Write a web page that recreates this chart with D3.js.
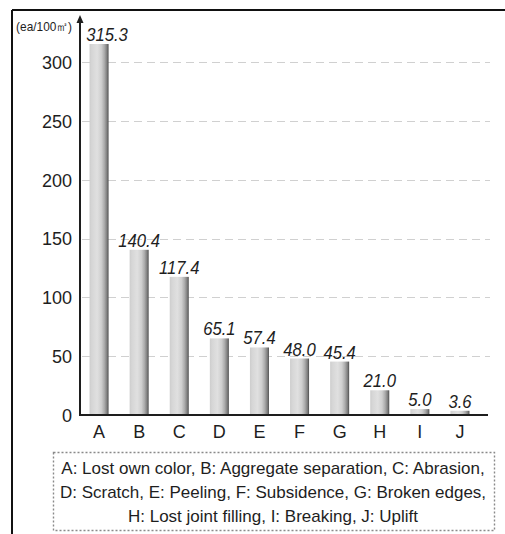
<!DOCTYPE html>
<html>
<head>
<meta charset="utf-8">
<script src="https://cdn.jsdelivr.net/npm/d3@7"></script>
<style>
  html, body { margin: 0; padding: 0; background: #fff; }
  svg { display: block; }
  text { font-family: "Liberation Sans", Arial, "Noto Sans", sans-serif; fill: #1e1e1e; }
</style>
</head>
<body>
<svg id="chart" width="505" height="534"></svg>
<script>
// Damage types (category codes) and their counts per 100 m²
const categories = ["A", "B", "C", "D", "E", "F", "G", "H", "I", "J"];
const values = [315.3, 140.4, 117.4, 65.1, 57.4, 48.0, 45.4, 21.0, 5.0, 3.6];
const valueLabels = ["315.3", "140.4", "117.4", "65.1", "57.4", "48.0", "45.4", "21.0", "5.0", "3.6"];
const yTicks = [0, 50, 100, 150, 200, 250, 300];
const unitLabel = "(ea/100㎡)";
const legendLines = [
  "A: Lost own color, B: Aggregate separation, C: Abrasion,",
  "D: Scratch, E: Peeling, F: Subsidence, G: Broken edges,",
  "H: Lost joint filling, I: Breaking, J: Uplift"
];

const svg = d3.select("#chart");

const plot = { left: 80, right: 490, top: 17, bottom: 415 };

const x = d3.scaleBand()
  .domain(categories)
  .range([79, 480])
  .paddingInner(0.526)
  .paddingOuter(0.263);

const y = d3.scaleLinear()
  .domain([0, 300])
  .range([plot.bottom, 62]);

// Bar shading: light face with a darker rounded right side
const defs = svg.append("defs");
const grad = defs.append("linearGradient").attr("id", "barShade")
  .attr("x1", "0%").attr("x2", "100%").attr("y1", "0%").attr("y2", "0%");
[["0%", "#cdcdcd"], ["12%", "#d6d6d6"], ["40%", "#e0e0e0"], ["62%", "#cfcfcf"],
 ["78%", "#acacac"], ["92%", "#7c7c7c"], ["100%", "#4c4c4c"]]
  .forEach(([o, c]) => grad.append("stop").attr("offset", o).attr("stop-color", c));

// Outer frame (top and left edges)
svg.append("line").attr("x1", 12).attr("x2", 505).attr("y1", 10).attr("y2", 10)
  .attr("stroke", "#111").attr("stroke-width", 2);
svg.append("line").attr("x1", 12).attr("x2", 12).attr("y1", 10).attr("y2", 534)
  .attr("stroke", "#111").attr("stroke-width", 2);

// Dashed gridlines
svg.append("g").selectAll("line")
  .data(yTicks.filter(d => d > 0))
  .join("line")
  .attr("x1", plot.left + 2).attr("x2", plot.right)
  .attr("y1", d => Math.round(y(d)) + 0.5).attr("y2", d => Math.round(y(d)) + 0.5)
  .attr("stroke", "#d0d0d0").attr("stroke-width", 1)
  .attr("stroke-dasharray", "8,5");

// Y axis tick labels via d3.axisLeft (line and ticks hidden)
const yAxis = svg.append("g")
  .attr("transform", `translate(${plot.left},0)`)
  .call(d3.axisLeft(y).tickValues(yTicks).tickSize(0).tickPadding(8).tickFormat(d3.format("d")));
yAxis.select(".domain").remove();
yAxis.selectAll("text")
  .attr("font-size", 18)
  .attr("font-family", "Liberation Sans, Arial, sans-serif")
  .attr("fill", "#1e1e1e")
  .attr("dy", "0.36em");

// Bars
svg.append("g").selectAll("rect")
  .data(values)
  .join("rect")
  .attr("x", (d, i) => x(categories[i]))
  .attr("width", x.bandwidth())
  .attr("y", d => y(d))
  .attr("height", d => y(0) - y(d))
  .attr("fill", "url(#barShade)");

// Value labels above bars (first one nudged right to clear the axis arrow)
svg.append("g").selectAll("text")
  .data(values)
  .join("text")
  .attr("transform", (d, i) => {
    const cx = x(categories[i]) + x.bandwidth() / 2 + (i === 0 ? 8 : 0);
    return `translate(${cx},${y(d) - 3}) scale(0.9,1)`;
  })
  .attr("text-anchor", "middle")
  .attr("font-size", 18.5)
  .attr("font-style", "italic")
  .attr("fill", "#1e1e1e")
  .text((d, i) => valueLabels[i]);

// X axis: baseline and category letters
const xAxis = svg.append("g")
  .attr("transform", `translate(0,${plot.bottom})`)
  .call(d3.axisBottom(x).tickSize(0).tickPadding(10));
xAxis.select(".domain").remove();
xAxis.selectAll("text")
  .attr("font-size", 18)
  .attr("font-family", "Liberation Sans, Arial, sans-serif")
  .attr("fill", "#1e1e1e")
  .attr("dy", "0.71em");

svg.append("line")
  .attr("x1", plot.left - 1).attr("x2", 488)
  .attr("y1", plot.bottom).attr("y2", plot.bottom)
  .attr("stroke", "#1e1e1e").attr("stroke-width", 2);

// Y axis line with arrowhead
svg.append("line")
  .attr("x1", plot.left).attr("x2", plot.left)
  .attr("y1", plot.bottom + 1).attr("y2", plot.top + 4)
  .attr("stroke", "#1e1e1e").attr("stroke-width", 2);
svg.append("path")
  .attr("d", `M${plot.left},${plot.top - 2} L${plot.left - 3.5},${plot.top + 6} L${plot.left + 3.5},${plot.top + 6} Z`)
  .attr("fill", "#1e1e1e");

// Unit label
svg.append("text")
  .attr("transform", `translate(72,31) scale(0.95,1)`)
  .attr("text-anchor", "end")
  .attr("font-size", 12.5)
  .attr("fill", "#333")
  .text(unitLabel);

// Legend box
svg.append("rect")
  .attr("x", 53.5).attr("y", 452.5).attr("width", 441).attr("height", 78)
  .attr("fill", "none").attr("stroke", "#8a8a8a").attr("stroke-width", 1.4)
  .attr("stroke-dasharray", "2,2");

svg.append("g").selectAll("text")
  .data(legendLines)
  .join("text")
  .attr("x", 273)
  .attr("y", (d, i) => 474 + i * 24)
  .attr("text-anchor", "middle")
  .attr("font-size", 17)
  .attr("fill", "#1e1e1e")
  .text(d => d);
</script>
</body>
</html>
